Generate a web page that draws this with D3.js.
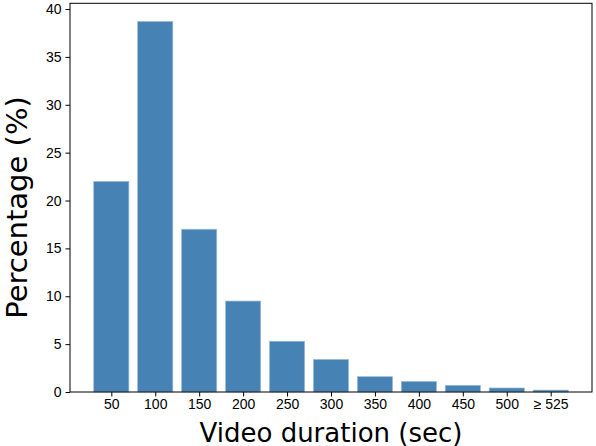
<!DOCTYPE html>
<html>
<head>
<meta charset="utf-8">
<script src="https://cdn.jsdelivr.net/npm/d3@7"></script>
<style>
  body { margin: 0; background: #fff; }
  svg { display: block; font-family: "DejaVu Sans", sans-serif; }
  .tick text { font-size: 14px; fill: #000; }
  .tick line { stroke: #000; }
</style>
</head>
<body>
<svg id="chart" width="596" height="446"></svg>
<script>
// durations (bin labels) and share of videos in each bin
const durations = ['50', '100', '150', '200', '250', '300', '350', '400', '450', '500', '\u2265 525'];
const percentages = [22.0, 38.7, 17.0, 9.5, 5.3, 3.4, 1.6, 1.1, 0.7, 0.42, 0.2];
const yTicks = [0, 5, 10, 15, 20, 25, 30, 35, 40];

const svg = d3.select('#chart');
const margin = { top: 3.3, right: 4, bottom: 54, left: 70 };
const width = 596, height = 446;

// x: bar index, with matplotlib-ish margins around the bars
const x = d3.scaleLinear()
    .domain([-0.94, durations.length - 1 + 0.94])
    .range([margin.left, width - margin.right]);
const y = d3.scaleLinear()
    .domain([0, 40.6])
    .range([height - margin.bottom, margin.top]);

const barW = x(0.4) - x(-0.4);

svg.append('g')
    .selectAll('rect')
    .data(percentages)
    .join('rect')
    .attr('x', (d, i) => x(i) - barW / 2)
    .attr('y', d => y(d))
    .attr('width', barW)
    .attr('height', d => y(0) - y(d))
    .attr('fill', '#4682b4')
    .attr('stroke', '#9dbbd6')
    .attr('stroke-width', 0.7);

// axes
svg.append('g')
    .attr('transform', `translate(0,${y(0)})`)
    .call(d3.axisBottom(x)
        .tickValues(d3.range(durations.length))
        .tickFormat(i => durations[i])
        .tickSize(4.5)
        .tickSizeOuter(0)
        .tickPadding(3));

svg.append('g')
    .attr('transform', `translate(${margin.left},0)`)
    .call(d3.axisLeft(y)
        .tickValues(yTicks)
        .tickSize(4.5)
        .tickSizeOuter(0)
        .tickPadding(4));

svg.selectAll('.domain').remove();

// frame
svg.append('rect')
    .attr('x', margin.left)
    .attr('y', margin.top)
    .attr('width', width - margin.right - margin.left)
    .attr('height', y(0) - margin.top)
    .attr('fill', 'none')
    .attr('stroke', '#000')
    .attr('stroke-width', 1);

// labels
svg.append('text')
    .attr('x', (margin.left + width - margin.right) / 2)
    .attr('y', 441.5)
    .attr('text-anchor', 'middle')
    .style('font-size', '26px')
    .text('Video duration (sec)');

svg.append('text')
    .attr('transform', `translate(27,207.5) rotate(-90)`)
    .attr('text-anchor', 'middle')
    .style('font-size', '29px')
    .text('Percentage (%)');
</script>
</body>
</html>
